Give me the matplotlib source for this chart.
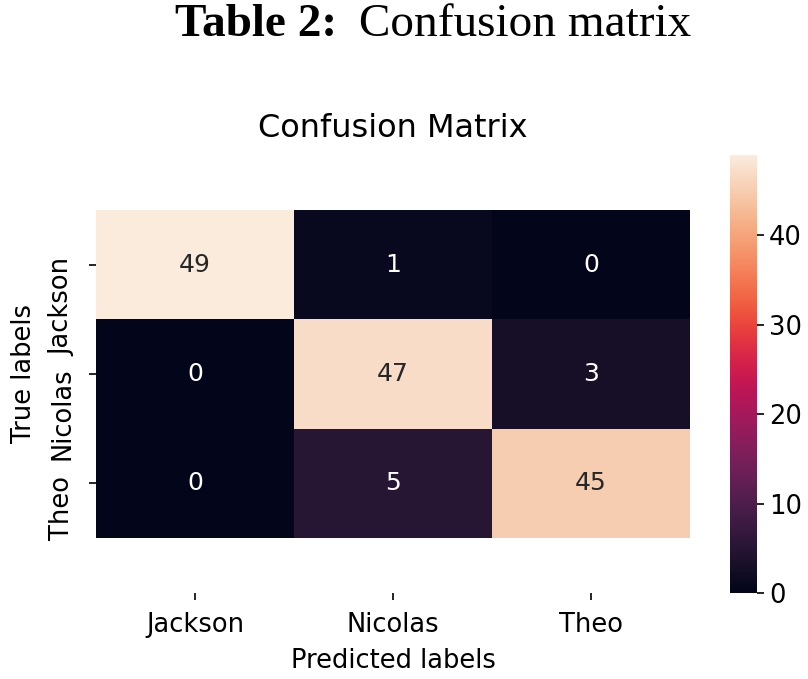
import matplotlib
matplotlib.use("Agg")
import matplotlib.pyplot as plt
import matplotlib.transforms as mtransforms
import numpy as np
import seaborn as sns

labels = ["Jackson", "Nicolas", "Theo"]
cm = np.array([[49, 1, 0],
               [0, 47, 3],
               [0, 5, 45]])

plt.rcParams['font.family'] = ['DejaVu Sans']
fs = 18.5
plt.rcParams['xtick.major.size'] = 5
plt.rcParams['ytick.major.size'] = 5
plt.rcParams['xtick.major.width'] = 1.2
plt.rcParams['ytick.major.width'] = 1.2

fig = plt.figure(figsize=(8.08, 6.79), dpi=100)
ax = fig.add_axes([0.119, 0.1267, 0.735, 0.645])
cax = fig.add_axes([0.9035, 0.1267, 0.0334, 0.645])

sns.heatmap(cm, annot=True, fmt="d", ax=ax, cbar_ax=cax, cmap="rocket",
            annot_kws={"size": 18})
ax.set_ylim(len(labels) + 0.5, -0.5)
ax.set_xticks(np.arange(len(labels)) + 0.5)
ax.set_yticks(np.arange(len(labels)) + 0.5)
ax.set_xticklabels(labels, fontsize=fs, rotation=0)
ax.set_yticklabels(labels, fontsize=fs, rotation=90, va="top")
ax.tick_params(axis="x", pad=9)
ax.tick_params(axis="y", pad=10)
# labels in the reference start just above each tick
off = mtransforms.ScaledTranslation(0, 7 / 100, fig.dpi_scale_trans)
for lab in ax.get_yticklabels():
    lab.set_transform(lab.get_transform() + off)
ax.set_xlabel("Predicted labels", fontsize=fs, labelpad=7)
ax.set_ylabel("True labels", fontsize=fs, labelpad=9)
ax.set_title("Confusion Matrix", fontsize=23, pad=13)
cax.tick_params(labelsize=fs)
cax.set_yticks([0, 10, 20, 30, 40])

fig.text(0.217, 0.963, "Table 2:", fontsize=34, fontweight="bold",
         family="Liberation Serif", ha="left", va="center")
fig.text(0.4445, 0.963, "Confusion matrix", fontsize=34,
         family="Liberation Serif", ha="left", va="center")

fig.savefig("out.png", dpi=100)
